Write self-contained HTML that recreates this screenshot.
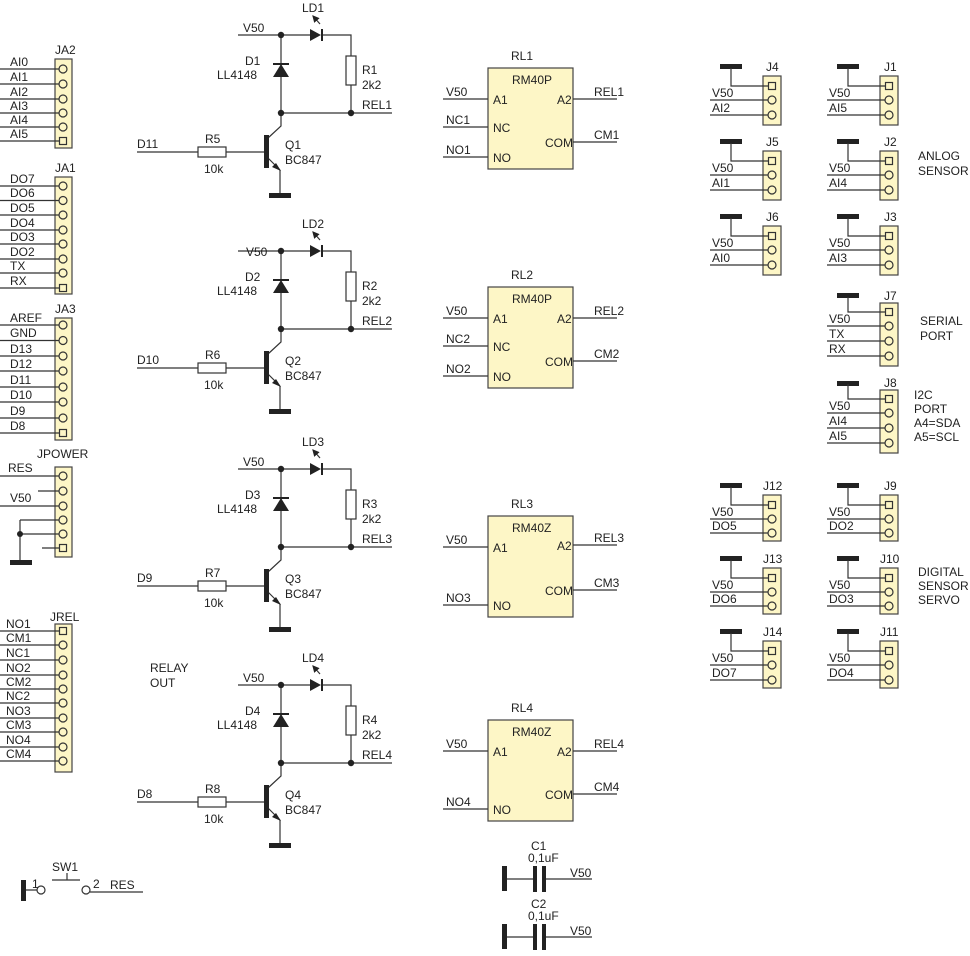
<!DOCTYPE html>
<html><head><meta charset="utf-8"><style>
html,body{margin:0;padding:0;background:#fff;}
svg{display:block;}
text{font-family:"Liberation Sans",Arial,sans-serif;font-size:12px;fill:#222;}
.l{stroke:#333;stroke-width:1.2;fill:none;}
.y{fill:#fdf6c6;stroke:#444;stroke-width:1.2;}
.p{fill:#fdf6c6;stroke:#333;stroke-width:1.2;}
.b{fill:#222;stroke:none;}
.r{fill:#fff;stroke:#333;stroke-width:1.2;}
</style></head><body>
<svg width="970" height="956" viewBox="0 0 970 956" xmlns="http://www.w3.org/2000/svg">
<defs>
<marker id="ar" markerWidth="6" markerHeight="6" refX="5" refY="3" orient="auto"><path d="M0,0 L6,3 L0,6 z" fill="#222"/></marker>
</defs>

<!-- JA2 -->
<text x="55" y="54">JA2</text>
<rect class="y" x="55" y="59" width="17" height="89"/>
<g class="l"><path d="M0 69H59M0 84H59M0 99H59M0 113H59M0 127H59M0 141H59"/></g>
<g class="p"><circle cx="63" cy="69" r="4"/><circle cx="63" cy="84" r="4"/><circle cx="63" cy="99" r="4"/><circle cx="63" cy="113" r="4"/><circle cx="63" cy="127" r="4"/><rect x="59.5" y="137.5" width="7" height="7"/></g>
<text x="10" y="66">AI0</text><text x="10" y="81">AI1</text><text x="10" y="96">AI2</text><text x="10" y="110">AI3</text><text x="10" y="124">AI4</text><text x="10" y="138">AI5</text>

<!-- JA1 -->
<text x="55" y="172">JA1</text>
<rect class="y" x="55" y="177" width="17" height="117"/>
<g class="l"><path d="M0 186H59M0 200.5H59M0 215H59M0 230H59M0 244H59M0 259H59M0 273H59M0 288H59"/></g>
<g class="p"><circle cx="63" cy="186" r="4"/><circle cx="63" cy="200.5" r="4"/><circle cx="63" cy="215" r="4"/><circle cx="63" cy="230" r="4"/><circle cx="63" cy="244" r="4"/><circle cx="63" cy="259" r="4"/><circle cx="63" cy="273" r="4"/><rect x="59.5" y="284.5" width="7" height="7"/></g>
<text x="10" y="183">DO7</text><text x="10" y="197">DO6</text><text x="10" y="212">DO5</text><text x="10" y="227">DO4</text><text x="10" y="241">DO3</text><text x="10" y="256">DO2</text><text x="10" y="270">TX</text><text x="10" y="285">RX</text>

<!-- JA3 -->
<text x="55" y="313">JA3</text>
<rect class="y" x="55" y="318" width="17" height="122"/>
<g class="l"><path d="M0 325H59M0 340.5H59M0 356H59M0 371H59M0 387H59M0 402H59M0 418H59M0 433H59"/></g>
<g class="p"><circle cx="63" cy="325" r="4"/><circle cx="63" cy="340.5" r="4"/><circle cx="63" cy="356" r="4"/><circle cx="63" cy="371" r="4"/><circle cx="63" cy="387" r="4"/><circle cx="63" cy="402" r="4"/><circle cx="63" cy="418" r="4"/><rect x="59.5" y="429.5" width="7" height="7"/></g>
<text x="10" y="322">AREF</text><text x="10" y="337">GND</text><text x="10" y="353">D13</text><text x="10" y="368">D12</text><text x="10" y="384">D11</text><text x="10" y="399">D10</text><text x="10" y="415">D9</text><text x="10" y="430">D8</text>

<!-- JPOWER -->
<text x="37" y="458">JPOWER</text>
<rect class="y" x="55" y="467" width="17" height="90"/>
<g class="l"><path d="M0 476H59M38 491H59M0 506H59M20 520H59M20 534H59M42 548H59M20 520V562"/></g>
<circle class="b" cx="20" cy="534" r="3"/>
<rect class="b" x="10" y="560" width="22" height="5"/>
<g class="p"><circle cx="63" cy="476" r="4"/><circle cx="63" cy="491" r="4"/><circle cx="63" cy="506" r="4"/><circle cx="63" cy="520" r="4"/><circle cx="63" cy="534" r="4"/><rect x="59.5" y="544.5" width="7" height="7"/></g>
<text x="8" y="472">RES</text><text x="10" y="502">V50</text>

<!-- JREL -->
<text x="50" y="621">JREL</text>
<rect class="y" x="55" y="624" width="17" height="148"/>
<g class="l"><path d="M0 631H59M0 645H59M0 660H59M0 675H59M0 689H59M0 703H59M0 718H59M0 732H59M0 747H59M0 761H59"/></g>
<g class="p"><rect x="59.5" y="627.5" width="7" height="7"/><circle cx="63" cy="645" r="4"/><circle cx="63" cy="660" r="4"/><circle cx="63" cy="675" r="4"/><circle cx="63" cy="689" r="4"/><circle cx="63" cy="703" r="4"/><circle cx="63" cy="718" r="4"/><circle cx="63" cy="732" r="4"/><circle cx="63" cy="747" r="4"/><circle cx="63" cy="761" r="4"/></g>
<text x="6" y="628">NO1</text><text x="6" y="642">CM1</text><text x="6" y="657">NC1</text><text x="6" y="672">NO2</text><text x="6" y="686">CM2</text><text x="6" y="700">NC2</text><text x="6" y="715">NO3</text><text x="6" y="729">CM3</text><text x="6" y="744">NO4</text><text x="6" y="758">CM4</text>

<text x="150" y="672">RELAY</text><text x="150" y="687">OUT</text>

<!-- Stage 1 -->
<g>
<path class="l" d="M238 35H310M323 35H351V56M351 85V113M281 35V113H392M281 113V126L268 138M268 158L280 170" />
<path class="l" d="M280 170V193M137 152H198M226 152H265" />
<path class="b" d="M310 29L310 41L321 35Z"/><rect class="b" x="321" y="29" width="2" height="12"/>
<path class="l" d="M320 24L313 16" marker-end="url(#ar)"/>
<path class="b" d="M281 64L273 77L289 77Z"/><rect class="b" x="273" y="63" width="16" height="2"/>
<rect class="r" x="346" y="56" width="10" height="29"/>
<circle class="b" cx="281" cy="35" r="3.2"/><circle class="b" cx="281" cy="113" r="3.2"/><circle class="b" cx="351" cy="113" r="3.2"/>
<rect class="r" x="198" y="147" width="28" height="10"/>
<rect class="b" x="264" y="135" width="5" height="33"/>
<path class="b" d="M281 171L272 167L276 163Z"/>
<rect class="b" x="269" y="193" width="22" height="5"/>
<text x="243" y="32">V50</text><text x="302" y="12">LD1</text>
<text x="245" y="65">D1</text><text x="217" y="79">LL4148</text>
<text x="362" y="74">R1</text><text x="362" y="89">2k2</text><text x="362" y="109">REL1</text>
<text x="137" y="148">D11</text><text x="205" y="143">R5</text><text x="204" y="173">10k</text>
<text x="285" y="149">Q1</text><text x="285" y="164">BC847</text>
</g>

<!-- Stage 2 -->
<g transform="translate(0,216)">
<path class="l" d="M238 35H310M323 35H351V56M351 85V113M281 35V113H392M281 113V126L268 138M268 158L280 170" />
<path class="l" d="M280 170V193M137 152H198M226 152H265" />
<path class="b" d="M310 29L310 41L321 35Z"/><rect class="b" x="321" y="29" width="2" height="12"/>
<path class="l" d="M320 24L313 16" marker-end="url(#ar)"/>
<path class="b" d="M281 64L273 77L289 77Z"/><rect class="b" x="273" y="63" width="16" height="2"/>
<rect class="r" x="346" y="56" width="10" height="29"/>
<circle class="b" cx="281" cy="35" r="3.2"/><circle class="b" cx="281" cy="113" r="3.2"/><circle class="b" cx="351" cy="113" r="3.2"/>
<rect class="r" x="198" y="147" width="28" height="10"/>
<rect class="b" x="264" y="135" width="5" height="33"/>
<path class="b" d="M281 171L272 167L276 163Z"/>
<rect class="b" x="269" y="193" width="22" height="5"/>
<text x="246" y="40">V50</text><text x="302" y="12">LD2</text>
<text x="245" y="65">D2</text><text x="217" y="79">LL4148</text>
<text x="362" y="74">R2</text><text x="362" y="89">2k2</text><text x="362" y="109">REL2</text>
<text x="137" y="148">D10</text><text x="205" y="143">R6</text><text x="204" y="173">10k</text>
<text x="285" y="149">Q2</text><text x="285" y="164">BC847</text>
</g>

<!-- Stage 3 -->
<g transform="translate(0,434)">
<path class="l" d="M238 35H310M323 35H351V56M351 85V113M281 35V113H392M281 113V126L268 138M268 158L280 170" />
<path class="l" d="M280 170V193M137 152H198M226 152H265" />
<path class="b" d="M310 29L310 41L321 35Z"/><rect class="b" x="321" y="29" width="2" height="12"/>
<path class="l" d="M320 24L313 16" marker-end="url(#ar)"/>
<path class="b" d="M281 64L273 77L289 77Z"/><rect class="b" x="273" y="63" width="16" height="2"/>
<rect class="r" x="346" y="56" width="10" height="29"/>
<circle class="b" cx="281" cy="35" r="3.2"/><circle class="b" cx="281" cy="113" r="3.2"/><circle class="b" cx="351" cy="113" r="3.2"/>
<rect class="r" x="198" y="147" width="28" height="10"/>
<rect class="b" x="264" y="135" width="5" height="33"/>
<path class="b" d="M281 171L272 167L276 163Z"/>
<rect class="b" x="269" y="193" width="22" height="5"/>
<text x="243" y="32">V50</text><text x="302" y="12">LD3</text>
<text x="245" y="65">D3</text><text x="217" y="79">LL4148</text>
<text x="362" y="74">R3</text><text x="362" y="89">2k2</text><text x="362" y="109">REL3</text>
<text x="137" y="148">D9</text><text x="205" y="143">R7</text><text x="204" y="173">10k</text>
<text x="285" y="149">Q3</text><text x="285" y="164">BC847</text>
</g>

<!-- Stage 4 -->
<g transform="translate(0,650)">
<path class="l" d="M238 35H310M323 35H351V56M351 85V113M281 35V113H392M281 113V126L268 138M268 158L280 170" />
<path class="l" d="M280 170V193M137 152H198M226 152H265" />
<path class="b" d="M310 29L310 41L321 35Z"/><rect class="b" x="321" y="29" width="2" height="12"/>
<path class="l" d="M320 24L313 16" marker-end="url(#ar)"/>
<path class="b" d="M281 64L273 77L289 77Z"/><rect class="b" x="273" y="63" width="16" height="2"/>
<rect class="r" x="346" y="56" width="10" height="29"/>
<circle class="b" cx="281" cy="35" r="3.2"/><circle class="b" cx="281" cy="113" r="3.2"/><circle class="b" cx="351" cy="113" r="3.2"/>
<rect class="r" x="198" y="147" width="28" height="10"/>
<rect class="b" x="264" y="135" width="5" height="33"/>
<path class="b" d="M281 171L272 167L276 163Z"/>
<rect class="b" x="269" y="193" width="22" height="5"/>
<text x="243" y="32">V50</text><text x="302" y="12">LD4</text>
<text x="245" y="65">D4</text><text x="217" y="79">LL4148</text>
<text x="362" y="74">R4</text><text x="362" y="89">2k2</text><text x="362" y="109">REL4</text>
<text x="137" y="148">D8</text><text x="205" y="143">R8</text><text x="204" y="173">10k</text>
<text x="285" y="149">Q4</text><text x="285" y="164">BC847</text>
</g>

<!-- Relays -->
<g>
<rect class="y" x="488" y="68" width="85" height="101"/>
<path class="l" d="M443 99H488M443 127H488M443 157H488M573 99H617M573 142H617"/>
<text x="511" y="60">RL1</text><text x="512" y="84">RM40P</text>
<text x="493" y="104">A1</text><text x="557" y="104">A2</text><text x="493" y="132">NC</text><text x="545" y="147">COM</text><text x="493" y="162">NO</text>
<text x="446" y="96">V50</text><text x="446" y="124">NC1</text><text x="446" y="154">NO1</text><text x="594" y="96">REL1</text><text x="594" y="139">CM1</text>
</g>
<g transform="translate(0,219)">
<rect class="y" x="488" y="68" width="85" height="101"/>
<path class="l" d="M443 99H488M443 127H488M443 157H488M573 99H617M573 142H617"/>
<text x="511" y="60">RL2</text><text x="512" y="84">RM40P</text>
<text x="493" y="104">A1</text><text x="557" y="104">A2</text><text x="493" y="132">NC</text><text x="545" y="147">COM</text><text x="493" y="162">NO</text>
<text x="446" y="96">V50</text><text x="446" y="124">NC2</text><text x="446" y="154">NO2</text><text x="594" y="96">REL2</text><text x="594" y="139">CM2</text>
</g>
<g transform="translate(0,448)">
<rect class="y" x="488" y="68" width="85" height="101"/>
<path class="l" d="M443 99H488M443 157H488M573 97H617M573 142H617"/>
<text x="511" y="60">RL3</text><text x="512" y="84">RM40Z</text>
<text x="493" y="104">A1</text><text x="557" y="102">A2</text><text x="545" y="147">COM</text><text x="493" y="162">NO</text>
<text x="446" y="96">V50</text><text x="446" y="154">NO3</text><text x="594" y="94">REL3</text><text x="594" y="139">CM3</text>
</g>
<g transform="translate(0,652)">
<rect class="y" x="488" y="68" width="85" height="101"/>
<path class="l" d="M443 99H488M443 157H488M573 99H617M573 142H617"/>
<text x="511" y="60">RL4</text><text x="512" y="84">RM40Z</text>
<text x="493" y="104">A1</text><text x="557" y="104">A2</text><text x="545" y="147">COM</text><text x="493" y="162">NO</text>
<text x="446" y="96">V50</text><text x="446" y="154">NO4</text><text x="594" y="96">REL4</text><text x="594" y="139">CM4</text>
</g>

<!-- SW1 -->
<rect class="b" x="21" y="880" width="5" height="21"/>
<path class="l" d="M26 890H37M90 892H143M52 880H80M67 880V873"/>
<circle class="r" cx="41" cy="890" r="4"/><circle class="r" cx="86" cy="890" r="4"/>
<text x="32" y="888">1</text><text x="93" y="888">2</text><text x="110" y="889">RES</text><text x="52" y="871">SW1</text>

<!-- C1 C2 -->
<g>
<rect class="b" x="502" y="866" width="5" height="25"/>
<path class="l" d="M507 879H534M546 879H592"/>
<rect class="b" x="533" y="866" width="4" height="26"/><rect class="b" x="542" y="866" width="4" height="26"/>
<text x="531" y="850">C1</text><text x="528" y="862">0,1uF</text><text x="570" y="877">V50</text>
</g>
<g transform="translate(0,58)">
<rect class="b" x="502" y="866" width="5" height="25"/>
<path class="l" d="M507 879H534M546 879H592"/>
<rect class="b" x="533" y="866" width="4" height="26"/><rect class="b" x="542" y="866" width="4" height="26"/>
<text x="531" y="850">C2</text><text x="528" y="862">0,1uF</text><text x="570" y="877">V50</text>
</g>

<!-- 3-pin jumpers -->
<g transform="translate(763,76)"><rect class="b" x="-43" y="-12" width="22" height="5"/><rect class="y" x="0" y="0" width="18" height="49"/><path class="l" d="M-32 -8V10H5M-53 24H5M-53 39H5"/><rect class="p" x="5.5" y="6.5" width="7" height="7"/><circle class="p" cx="9" cy="24" r="4"/><circle class="p" cx="9" cy="39" r="4"/><text x="-51" y="21">V50</text><text x="-51" y="36">AI2</text><text x="3" y="-5">J4</text></g>
<g transform="translate(880,76)"><rect class="b" x="-43" y="-12" width="22" height="5"/><rect class="y" x="0" y="0" width="18" height="49"/><path class="l" d="M-32 -8V10H5M-53 24H5M-53 39H5"/><rect class="p" x="5.5" y="6.5" width="7" height="7"/><circle class="p" cx="9" cy="24" r="4"/><circle class="p" cx="9" cy="39" r="4"/><text x="-51" y="21">V50</text><text x="-51" y="36">AI5</text><text x="4" y="-5">J1</text></g>
<g transform="translate(763,151)"><rect class="b" x="-43" y="-12" width="22" height="5"/><rect class="y" x="0" y="0" width="18" height="49"/><path class="l" d="M-32 -8V10H5M-53 24H5M-53 39H5"/><rect class="p" x="5.5" y="6.5" width="7" height="7"/><circle class="p" cx="9" cy="24" r="4"/><circle class="p" cx="9" cy="39" r="4"/><text x="-51" y="21">V50</text><text x="-51" y="36">AI1</text><text x="3" y="-5">J5</text></g>
<g transform="translate(880,151)"><rect class="b" x="-43" y="-12" width="22" height="5"/><rect class="y" x="0" y="0" width="18" height="49"/><path class="l" d="M-32 -8V10H5M-53 24H5M-53 39H5"/><rect class="p" x="5.5" y="6.5" width="7" height="7"/><circle class="p" cx="9" cy="24" r="4"/><circle class="p" cx="9" cy="39" r="4"/><text x="-51" y="21">V50</text><text x="-51" y="36">AI4</text><text x="4" y="-5">J2</text></g>
<g transform="translate(763,226)"><rect class="b" x="-43" y="-12" width="22" height="5"/><rect class="y" x="0" y="0" width="18" height="49"/><path class="l" d="M-32 -8V10H5M-53 24H5M-53 39H5"/><rect class="p" x="5.5" y="6.5" width="7" height="7"/><circle class="p" cx="9" cy="24" r="4"/><circle class="p" cx="9" cy="39" r="4"/><text x="-51" y="21">V50</text><text x="-51" y="36">AI0</text><text x="3" y="-5">J6</text></g>
<g transform="translate(880,226)"><rect class="b" x="-43" y="-12" width="22" height="5"/><rect class="y" x="0" y="0" width="18" height="49"/><path class="l" d="M-32 -8V10H5M-53 24H5M-53 39H5"/><rect class="p" x="5.5" y="6.5" width="7" height="7"/><circle class="p" cx="9" cy="24" r="4"/><circle class="p" cx="9" cy="39" r="4"/><text x="-51" y="21">V50</text><text x="-51" y="36">AI3</text><text x="4" y="-5">J3</text></g>
<text x="918" y="160">ANLOG</text><text x="918" y="175">SENSOR</text>

<!-- J7 -->
<g transform="translate(880,303)"><rect class="b" x="-43" y="-10" width="22" height="5"/><rect class="y" x="0" y="0" width="18" height="63"/><path class="l" d="M-32 -6V9H5M-53 23H5M-53 38H5M-53 53H5"/><rect class="p" x="5.5" y="5.5" width="7" height="7"/><circle class="p" cx="9" cy="23" r="4"/><circle class="p" cx="9" cy="38" r="4"/><circle class="p" cx="9" cy="53" r="4"/><text x="-51" y="20">V50</text><text x="-51" y="35">TX</text><text x="-51" y="50">RX</text><text x="4" y="-3">J7</text></g>
<text x="920" y="325">SERIAL</text><text x="920" y="340">PORT</text>
<!-- J8 -->
<g transform="translate(880,390)"><rect class="b" x="-43" y="-9" width="22" height="5"/><rect class="y" x="0" y="0" width="18" height="63"/><path class="l" d="M-32 -6V9H5M-53 23H5M-53 38H5M-53 53H5"/><rect class="p" x="5.5" y="5.5" width="7" height="7"/><circle class="p" cx="9" cy="23" r="4"/><circle class="p" cx="9" cy="38" r="4"/><circle class="p" cx="9" cy="53" r="4"/><text x="-51" y="20">V50</text><text x="-51" y="35">AI4</text><text x="-51" y="50">AI5</text><text x="4" y="-3">J8</text></g>
<text x="914" y="399">I2C</text><text x="914" y="413">PORT</text><text x="914" y="427">A4=SDA</text><text x="914" y="441">A5=SCL</text>

<!-- lower jumpers -->
<g transform="translate(763,495)"><rect class="b" x="-43" y="-12" width="22" height="5"/><rect class="y" x="0" y="0" width="18" height="46"/><path class="l" d="M-32 -8V10H5M-53 24H5M-53 38H5"/><rect class="p" x="5.5" y="6.5" width="7" height="7"/><circle class="p" cx="9" cy="24" r="4"/><circle class="p" cx="9" cy="38" r="4"/><text x="-51" y="21">V50</text><text x="-51" y="35">DO5</text><text x="0" y="-5">J12</text></g>
<g transform="translate(880,495)"><rect class="b" x="-43" y="-12" width="22" height="5"/><rect class="y" x="0" y="0" width="18" height="46"/><path class="l" d="M-32 -8V10H5M-53 24H5M-53 38H5"/><rect class="p" x="5.5" y="6.5" width="7" height="7"/><circle class="p" cx="9" cy="24" r="4"/><circle class="p" cx="9" cy="38" r="4"/><text x="-51" y="21">V50</text><text x="-51" y="35">DO2</text><text x="4" y="-5">J9</text></g>
<g transform="translate(763,568)"><rect class="b" x="-43" y="-12" width="22" height="5"/><rect class="y" x="0" y="0" width="18" height="46"/><path class="l" d="M-32 -8V10H5M-53 24H5M-53 38H5"/><rect class="p" x="5.5" y="6.5" width="7" height="7"/><circle class="p" cx="9" cy="24" r="4"/><circle class="p" cx="9" cy="38" r="4"/><text x="-51" y="21">V50</text><text x="-51" y="35">DO6</text><text x="0" y="-5">J13</text></g>
<g transform="translate(880,568)"><rect class="b" x="-43" y="-12" width="22" height="5"/><rect class="y" x="0" y="0" width="18" height="46"/><path class="l" d="M-32 -8V10H5M-53 24H5M-53 38H5"/><rect class="p" x="5.5" y="6.5" width="7" height="7"/><circle class="p" cx="9" cy="24" r="4"/><circle class="p" cx="9" cy="38" r="4"/><text x="-51" y="21">V50</text><text x="-51" y="35">DO3</text><text x="0" y="-5">J10</text></g>
<g transform="translate(763,641)"><rect class="b" x="-43" y="-12" width="22" height="5"/><rect class="y" x="0" y="0" width="18" height="47"/><path class="l" d="M-32 -8V10H5M-53 24H5M-53 39H5"/><rect class="p" x="5.5" y="6.5" width="7" height="7"/><circle class="p" cx="9" cy="24" r="4"/><circle class="p" cx="9" cy="39" r="4"/><text x="-51" y="21">V50</text><text x="-51" y="36">DO7</text><text x="0" y="-5">J14</text></g>
<g transform="translate(880,641)"><rect class="b" x="-43" y="-12" width="22" height="5"/><rect class="y" x="0" y="0" width="18" height="47"/><path class="l" d="M-32 -8V10H5M-53 24H5M-53 39H5"/><rect class="p" x="5.5" y="6.5" width="7" height="7"/><circle class="p" cx="9" cy="24" r="4"/><circle class="p" cx="9" cy="39" r="4"/><text x="-51" y="21">V50</text><text x="-51" y="36">DO4</text><text x="0" y="-5">J11</text></g>
<text x="918" y="576">DIGITAL</text><text x="918" y="590">SENSOR</text><text x="918" y="604">SERVO</text>
</svg>
</body></html>
